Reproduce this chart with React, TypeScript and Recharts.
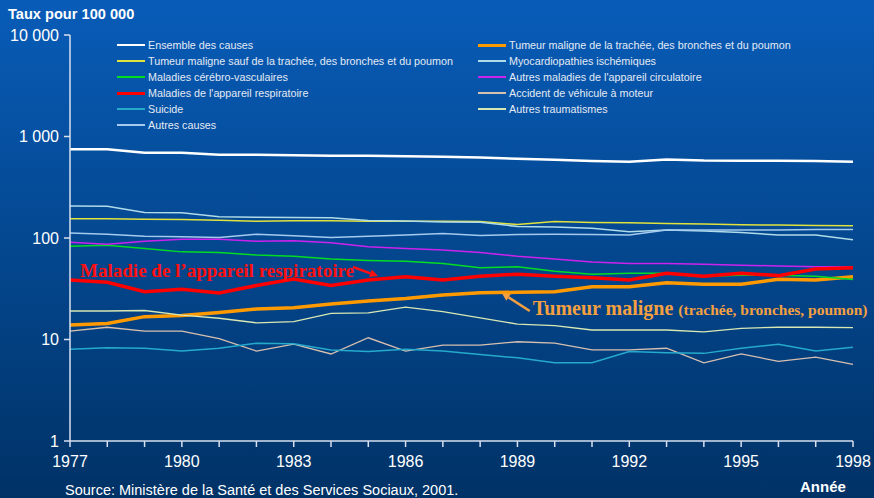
import React from 'react';
import { LineChart, Line, XAxis, YAxis, Legend, ReferenceDot } from 'recharts';

const years = [1977, 1978, 1979, 1980, 1981, 1982, 1983, 1984, 1985, 1986, 1987, 1988, 1989, 1990, 1991, 1992, 1993, 1994, 1995, 1996, 1997, 1998];

const ensemble = [750, 750, 690, 690, 660, 660, 655, 645, 645, 640, 630, 620, 605, 590, 575, 565, 595, 580, 578, 578, 575, 565];
const tumeurPoumon = [13.9, 14.4, 16.8, 17.2, 18.5, 20, 20.6, 22.4, 24, 25.4, 27.5, 28.9, 29.2, 29.6, 33.1, 33.1, 36.3, 35, 35, 39.2, 38.6, 41.6];
const tumeurSauf = [155, 155, 153, 152, 150, 146, 148, 148, 146, 146, 146, 145, 136, 145, 142, 141, 139, 137, 135, 134, 133, 132];
const myocardio = [207, 205, 178, 177, 162, 160, 159, 158, 149, 147, 144, 143, 130, 128, 125, 115, 120, 117, 113, 107, 107, 96];
const cerebro = [83, 85, 79, 73, 72, 68, 66, 62, 60, 59, 56, 51, 52, 47, 44, 45, 45, 42, 43, 43, 42, 39];
const autresCirc = [91, 87, 93, 97, 97, 93, 94, 90, 82, 79, 76, 72, 66, 62, 58, 56, 56, 55, 54, 53, 52, 52];
const respiratoire = [38.6, 36.6, 29.5, 31.2, 28.8, 34, 39.5, 34, 38.6, 41.6, 38.6, 42, 44, 42, 40.5, 38.6, 45, 42, 45, 42.6, 49.6, 51];
const accident = [12.1, 13.2, 12.1, 12.1, 10.2, 7.7, 9.0, 7.2, 10.4, 7.7, 8.8, 8.8, 9.5, 9.2, 7.9, 7.9, 8.2, 5.9, 7.2, 6.1, 6.7, 5.7];
const suicide = [8.0, 8.3, 8.2, 7.7, 8.2, 9.2, 9.1, 7.9, 7.6, 8.0, 7.7, 7.1, 6.6, 5.9, 5.9, 7.6, 7.4, 7.3, 8.2, 9.0, 7.7, 8.4];
const autresTrauma = [19.1, 19.1, 19.3, 17.4, 16.2, 14.6, 15, 18.1, 18.3, 20.8, 18.8, 16.3, 14.2, 13.7, 12.4, 12.4, 12.4, 11.9, 12.9, 13.2, 13.2, 13.1];
const autresCauses = [112, 109, 104, 103, 101, 109, 105, 101, 104, 107, 111, 106, 108, 109, 108, 107, 120, 120, 120, 120, 121, 121];

const yTicks = [1, 10, 100, 1000, 10000];
const yTickLabels = ['1', '10', '100', '1 000', '10 000'];

const series = [
  { key: 'ensemble', name: 'Ensemble des causes', values: ensemble, color: '#ffffff', width: 2.5 },
  { key: 'tumeurPoumon', name: 'Tumeur maligne de la trachée, des bronches et du poumon', values: tumeurPoumon, color: '#ff9900', width: 3.5 },
  { key: 'tumeurSauf', name: 'Tumeur maligne sauf de la trachée, des bronches et du poumon', values: tumeurSauf, color: '#e2e23c', width: 1.5 },
  { key: 'myocardio', name: 'Myocardiopathies ischémiques', values: myocardio, color: '#b0dbe8', width: 1.5 },
  { key: 'cerebro', name: 'Maladies cérébro-vasculaires', values: cerebro, color: '#00dd22', width: 1.5 },
  { key: 'autresCirc', name: "Autres maladies de l'appareil circulatoire", values: autresCirc, color: '#cc22ee', width: 1.5 },
  { key: 'respiratoire', name: "Maladies de l'appareil respiratoire", values: respiratoire, color: '#ff0000', width: 3.5 },
  { key: 'accident', name: 'Accident de véhicule à moteur', values: accident, color: '#d8c0b0', width: 1.3 },
  { key: 'suicide', name: 'Suicide', values: suicide, color: '#25aacc', width: 1.5 },
  { key: 'autresTrauma', name: 'Autres traumatismes', values: autresTrauma, color: '#d8e8b4', width: 1.3 },
  { key: 'autresCauses', name: 'Autres causes', values: autresCauses, color: '#a4cbef', width: 1.5 },
];

const data = years.map((y, i) => {
  const row: any = { year: y };
  series.forEach((s) => { row[s.key] = s.values[i]; });
  return row;
});

const SANS = '"Liberation Sans", Arial, sans-serif';
const SERIF = '"Liberation Serif", "Times New Roman", serif';

function arrow(x1: number, y1: number, x2: number, y2: number, color: string) {
  const dx = x2 - x1, dy = y2 - y1;
  const len = Math.sqrt(dx * dx + dy * dy);
  const ux = dx / len, uy = dy / len;
  const hl = 8, hw = 4;
  const bx = x2 - ux * hl, by = y2 - uy * hl;
  const pts = `${x2},${y2} ${bx - uy * hw},${by + ux * hw} ${bx + uy * hw},${by - ux * hw}`;
  return (
    <g>
      <line x1={x1} y1={y1} x2={bx} y2={by} stroke={color} strokeWidth={2.5} />
      <polygon points={pts} fill={color} />
    </g>
  );
}

const RespLabel = (props: any) => {
  const { cx, cy } = props;
  if (cx == null || cy == null) return <g />;
  return (
    <g>
      {arrow(cx - 25, cy - 9, cx, cy, '#ff1010')}
      <text x={cx - 24} y={cy + 1} textAnchor="end" fill="#ff1010" fontFamily={SERIF} fontWeight="bold" fontSize={19}>
        Maladie de l’appareil respiratoire
      </text>
    </g>
  );
};

const TumeurLabel = (props: any) => {
  const { cx, cy } = props;
  if (cx == null || cy == null) return <g />;
  return (
    <g>
      {arrow(cx + 28, cy + 18, cx, cy, '#f4a040')}
      <text x={cx + 31} y={cy + 22} fill="#f4a040" fontFamily={SERIF} fontWeight="bold">
        <tspan fontSize={20}>Tumeur maligne </tspan>
        <tspan fontSize={15.5}>(trachée, bronches, poumon)</tspan>
      </text>
    </g>
  );
};

const LegendContent = () => (
  <div style={{ position: 'relative', width: 874, height: 140 }}>
    {series.map((s, i) => {
      const col = i % 2;
      const row = Math.floor(i / 2);
      const lx = col === 0 ? 117 : 478;
      const top = 45 + row * 16;
      return (
        <div key={s.key} style={{ position: 'absolute', left: lx, top: top - 8, height: 16, display: 'flex', alignItems: 'center', whiteSpace: 'nowrap' }}>
          <div style={{ width: 28, height: Math.max(1.5, s.width - 0.5), background: s.color, marginRight: 3 }} />
          <span style={{ fontFamily: SANS, fontSize: 10.75, color: '#e4eaf4' }}>{s.name}</span>
        </div>
      );
    })}
  </div>
);

export default function App() {
  return (
    <div style={{ position: 'absolute', left: 0, top: 0, width: 874, height: 498, background: 'linear-gradient(#085cb8, #003266)', overflow: 'hidden' }}>
      <div style={{ position: 'absolute', left: 8, top: 6, fontFamily: SANS, fontWeight: 'bold', fontSize: 14.6, color: '#ffffff' }}>
        Taux pour 100 000
      </div>
      <LineChart width={874} height={498} data={data} margin={{ top: 35, right: 21, bottom: 27, left: 8 }}>
        <XAxis
          dataKey="year"
          type="number"
          domain={[1977, 1998]}
          ticks={years}
          interval={0}
          tickFormatter={(v: number) => ((v - 1977) % 3 === 0 ? String(v) : '')}
          stroke="#d8e0ee"
          strokeWidth={1.5}
          tickSize={6}
          tickMargin={9}
          height={30}
          tick={{ fill: '#ffffff', fontSize: 16, fontFamily: SANS }}
        />
        <YAxis
          type="number"
          scale="log"
          domain={[1, 10000]}
          ticks={yTicks}
          interval={0}
          allowDataOverflow
          tickFormatter={(v: number) => yTickLabels[yTicks.indexOf(v)] ?? String(v)}
          stroke="#d8e0ee"
          strokeWidth={1.5}
          tickSize={6}
          tickMargin={5}
          width={62}
          tick={{ fill: '#ffffff', fontSize: 16, fontFamily: SANS }}
        />
        <Legend
          layout="horizontal"
          verticalAlign="middle"
          align="center"
          content={LegendContent}
          wrapperStyle={{ position: 'absolute', left: 0, top: 0, width: 874, height: 140 }}
        />
        {series.map((s) => (
          <Line
            key={s.key}
            type="linear"
            dataKey={s.key}
            name={s.name}
            stroke={s.color}
            strokeWidth={s.width}
            dot={false}
            activeDot={false}
            isAnimationActive={false}
          />
        ))}
        <ReferenceDot x={1985.26} y={42.2} r={1} ifOverflow="visible" shape={RespLabel} />
        <ReferenceDot x={1988.58} y={28.7} r={1} ifOverflow="visible" shape={TumeurLabel} />
      </LineChart>
      <div style={{ position: 'absolute', left: 65, top: 482, fontFamily: SANS, fontSize: 14.5, color: '#ffffff', transform: 'scaleY(0.95)' }}>
        Source: Ministère de la Santé et des Services Sociaux, 2001.
      </div>
      <div style={{ position: 'absolute', left: 800, top: 478, fontFamily: SANS, fontWeight: 'bold', fontSize: 15, color: '#ffffff' }}>
        Année
      </div>
    </div>
  );
}
